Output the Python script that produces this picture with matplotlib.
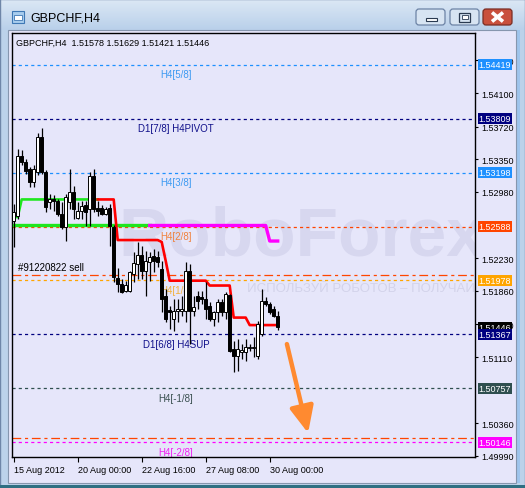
import numpy as np
import matplotlib
matplotlib.use("Agg")
import matplotlib.pyplot as plt
from matplotlib.patches import Rectangle, FancyBboxPatch
from matplotlib.transforms import blended_transform_factory

# ---------------- data ----------------
symbol = "GBPCHF,H4"
last_ohlc = [1.51578, 1.51629, 1.51421, 1.51446]

opens = [1.52650, 1.52707, 1.53387, 1.53319, 1.53239, 1.53092, 1.53205, 1.53602, 1.53205, 1.52866,
         1.52900, 1.52877, 1.52730, 1.52582, 1.52866, 1.52979, 1.52684, 1.52764, 1.52832, 1.52786,
         1.53160, 1.52798, 1.52798, 1.52730, 1.52798, 1.52582, 1.52005, 1.51937, 1.51857, 1.51857,
         1.52050, 1.52163, 1.52265, 1.52084, 1.52186, 1.52254, 1.52242, 1.52107, 1.51801, 1.51642,
         1.51541, 1.51631, 1.51631, 1.51631, 1.52084, 1.51631, 1.51801, 1.51789, 1.51767, 1.51688,
         1.51541, 1.51620, 1.51733, 1.51620, 1.51812, 1.51201, 1.51121, 1.51167, 1.51167, 1.51212,
         1.51212, 1.51121, 1.51370, 1.51744, 1.51710, 1.51654, 1.51578]
highs = [1.52843, 1.53466, 1.53455, 1.53353, 1.53262, 1.53285, 1.53647, 1.53704, 1.53228, 1.52956,
         1.52945, 1.52900, 1.52866, 1.52956, 1.53239, 1.53047, 1.52866, 1.52877, 1.52877, 1.53205,
         1.53239, 1.52877, 1.52832, 1.52809, 1.52843, 1.52600, 1.52118, 1.51993, 1.51971, 1.52084,
         1.52299, 1.52413, 1.52367, 1.52311, 1.52299, 1.52333, 1.52311, 1.52197, 1.51880, 1.51688,
         1.51767, 1.51767, 1.51801, 1.52186, 1.52163, 1.51801, 1.51857, 1.51857, 1.51959, 1.51733,
         1.51631, 1.51767, 1.51767, 1.51846, 1.51823, 1.51291, 1.51314, 1.51257, 1.51314, 1.51257,
         1.51336, 1.51518, 1.51880, 1.51789, 1.51733, 1.51688, 1.51629]
lows = [1.52356, 1.52673, 1.53285, 1.53183, 1.53035, 1.53035, 1.53171, 1.53183, 1.52752, 1.52786,
        1.52764, 1.52707, 1.52560, 1.52424, 1.52786, 1.52673, 1.52673, 1.52673, 1.52594, 1.52594,
        1.52752, 1.52707, 1.52718, 1.52718, 1.52367, 1.51959, 1.51846, 1.51835, 1.51846, 1.51846,
        1.51959, 1.51993, 1.51993, 1.51801, 1.51971, 1.52072, 1.52129, 1.51620, 1.51507, 1.51427,
        1.51404, 1.51507, 1.51574, 1.51507, 1.51257, 1.51574, 1.51654, 1.51710, 1.51541, 1.51518,
        1.51461, 1.51507, 1.51574, 1.51541, 1.51167, 1.50940, 1.50951, 1.51087, 1.51065, 1.51178,
        1.51110, 1.51087, 1.51348, 1.51688, 1.51597, 1.51563, 1.51421]
closes = [1.52752, 1.53387, 1.53319, 1.53217, 1.53092, 1.53239, 1.53602, 1.53205, 1.52809, 1.52900,
          1.52877, 1.52730, 1.52582, 1.52922, 1.52979, 1.52786, 1.52764, 1.52820, 1.52752, 1.53160,
          1.52786, 1.52764, 1.52730, 1.52786, 1.52594, 1.52016, 1.51937, 1.51846, 1.51925, 1.52072,
          1.52174, 1.52265, 1.52084, 1.52197, 1.52242, 1.52197, 1.52186, 1.51767, 1.51541, 1.51620,
          1.51631, 1.51654, 1.51654, 1.52084, 1.51631, 1.51676, 1.51744, 1.51767, 1.51654, 1.51541,
          1.51620, 1.51733, 1.51620, 1.51823, 1.51178, 1.51121, 1.51201, 1.51189, 1.51223, 1.51223,
          1.51223, 1.51484, 1.51744, 1.51710, 1.51620, 1.51574, 1.51446]

# indicator lines (start bar index + values)
green_up_start = 0
green_up = [1.52696, 1.52696, 1.52895, 1.52895, 1.52895, 1.52895, 1.52895, 1.52895, 1.52895, 1.52895,
            1.52895, 1.52895, 1.52895, 1.52895, 1.52895, 1.52895, 1.52895, 1.52895, 1.52895, 1.52895,
            1.52895, 1.52895]
red_start = 21
red = [1.52895, 1.52895, 1.52895, 1.52895, 1.52895,
       1.52435, 1.52435, 1.52435, 1.52435, 1.52435, 1.52435, 1.52435, 1.52435, 1.52435, 1.52435, 1.52435,
       1.52413, 1.52200,
       1.51975, 1.51975, 1.51975, 1.51975, 1.51975, 1.51975, 1.51975, 1.51975, 1.51975, 1.51975,
       1.51920, 1.51920, 1.51920, 1.51920, 1.51920, 1.51920,
       1.51557, 1.51557, 1.51557, 1.51557,
       1.51472, 1.51472, 1.51472, 1.51472, 1.51472, 1.51472, 1.51472, 1.51472]
green_low_start = 0
green_low = [1.52600, 1.52600, 1.52600, 1.52600, 1.52600, 1.52600, 1.52600, 1.52600, 1.52600, 1.52600,
             1.52600, 1.52600, 1.52600, 1.52600, 1.52600, 1.52600, 1.52600, 1.52600, 1.52600, 1.52600,
             1.52600, 1.52600, 1.52600, 1.52600, 1.52600, 1.52600, 1.52600, 1.52600, 1.52600, 1.52600,
             1.52600, 1.52600, 1.52600, 1.52600, 1.52600]
magenta_start = 34
magenta = [1.52600, 1.52600, 1.52600, 1.52600, 1.52600, 1.52600, 1.52600, 1.52600, 1.52600, 1.52600,
           1.52600, 1.52600, 1.52600, 1.52600, 1.52600, 1.52600, 1.52600, 1.52600, 1.52600, 1.52600,
           1.52600, 1.52600, 1.52600, 1.52600, 1.52600, 1.52600, 1.52600, 1.52600, 1.52600, 1.52600,
           1.52424, 1.52424, 1.52424]

levels = [1.54419, 1.53809, 1.53198, 1.52588, 1.51978, 1.51367, 1.50757, 1.50146]
level_names = ["H4[5/8]", "D1[7/8] H4PIVOT", "H4[3/8]", "H4[2/8]", "H4[1/8]",
               "D1[6/8] H4SUP", "H4[-1/8]", "H4[-2/8]"]
level_colors = ["#1E90FF", "#000080", "#1E90FF", "#FF4500", "#FFA500", "#000080", "#2F4F4F", "#FF00FF"]
level_text_colors = ["#3C9AF2", "#10108A", "#3C9AF2", "#F0823E", "#F2B03A", "#10108A", "#3A5050", "#F020F0"]

sell_price = 1.52039
sell_label = "#91220822 sell"
tp_price = 1.50193
bid_price = 1.51446

xtick_pos = [0, 16, 32, 48, 64]
xtick_labels = ["15 Aug 2012", "20 Aug 00:00", "22 Aug 16:00", "27 Aug 08:00", "30 Aug 00:00"]
yticks = [1.54470, 1.54100, 1.53720, 1.53350, 1.52980, 1.52230, 1.51860,
          1.51480, 1.51110, 1.50360, 1.49990]

arrow_start = (68.3, 1.51257)
arrow_end = (73.6, 1.50249)

# ---------------- figure / window chrome ----------------
W, H = 525, 489
FONT = "Liberation Sans"
plt.rcParams["font.family"] = [FONT, "DejaVu Sans"]
fig = plt.figure(figsize=(W / 100, H / 100), dpi=100)
fig.patch.set_facecolor("#BCD2EA")

bg = fig.add_axes([0, 0, 1, 1], zorder=0)
bg.set_xlim(0, W)
bg.set_ylim(H, 0)
bg.axis("off")

grad = np.linspace(0, 1, 64).reshape(-1, 1)
c1 = np.array([0xDC, 0xE8, 0xF5]) / 255
c2 = np.array([0xB9, 0xD0, 0xEA]) / 255
img = c1[None, None, :] * (1 - grad[:, :, None]) + c2[None, None, :] * grad[:, :, None]
bg.imshow(img, extent=(0, W, 31, 0), aspect="auto", zorder=0)
bg.add_patch(Rectangle((0, 0), W - 0.5, H - 0.5, fill=False, ec="#6F86A8", lw=1, zorder=1))
bg.add_patch(Rectangle((516, 31), 4, 453, fc="#9EC4EC", ec="none", zorder=1))
bg.add_patch(Rectangle((0, 486), W, 3, fc="#2F6F82", ec="none", zorder=1))
# client area
bg.add_patch(Rectangle((8, 31), 508, 453, fc="#E6E6FA", ec="#8696AE", lw=0.8, zorder=2))

# icon + title
bg.add_patch(Rectangle((11.5, 11.5), 12, 12, fc="#A8CDEE", ec="#3F78B5", lw=0.8, zorder=3))
bg.add_patch(Rectangle((14, 16), 8, 5, fc="white", ec="#3F78B5", lw=0.6, zorder=4))
bg.text(30.5, 18.5, symbol, fontsize=9, color="black", va="center", ha="left", zorder=5)

# buttons
for (x0, fc, ec) in [(416, "#D7E4F2", "#6C83A5"), (450, "#D7E4F2", "#6C83A5"), (483, "#C9503D", "#7A2C22")]:
    bg.add_patch(FancyBboxPatch((x0, 10), 29, 16, boxstyle="round,pad=0,rounding_size=3",
                                fc=fc, ec=ec, lw=0.9, zorder=3))
bg.add_patch(Rectangle((425.5, 19), 11, 3, fc="white", ec="#2A3A50", lw=0.8, zorder=4))
bg.add_patch(Rectangle((459, 13.5), 11, 9, fc="none", ec="#2A3A50", lw=0.9, zorder=4))
bg.add_patch(Rectangle((461.5, 16), 6, 4, fc="white", ec="#2A3A50", lw=0.6, zorder=4))
bg.plot([492, 503], [13.5, 22.5], color="white", lw=2.6, zorder=4, solid_capstyle="butt")
bg.plot([492, 503], [22.5, 13.5], color="white", lw=2.6, zorder=4, solid_capstyle="butt")

# ---------------- main chart ----------------
L, R, T, B = 12.0, 475.0, 34.0, 458.0
ax = fig.add_axes([L / W, (H - B) / H, (R - L) / W, (B - T) / H], zorder=1)
ax.set_facecolor("#E6E6FA")
x0px, step = 13.7, 4.0
ax.set_xlim((L - x0px) / step, (R - x0px) / step)
ax.set_ylim(1.49978, 1.54780)
axw_px = R - L

# watermark
ax.text(26.1, 1.52266, "RoboForex", fontsize=50, fontweight="bold", color="#D7D7EF",
        ha="left", va="baseline", zorder=0.5, clip_on=True)
ax.text(58.3, 1.51860, "ИСПОЛЬЗУЙ РОБОТОВ – ПОЛУЧАЙ ПРИБЫЛЬ", fontsize=9.5, color="#D3D3EA",
        ha="left", va="baseline", zorder=0.6, clip_on=True)

# level lines
for lv, nm, col, tcol in zip(levels, level_names, level_colors, level_text_colors):
    ax.axhline(lv, color=col, lw=0.9, linestyle=(0, (2.5, 2.5)), zorder=1)
    ax.annotate(nm, xy=(40.6, lv), xytext=(0, -3.2), textcoords="offset points",
                ha="center", va="top", fontsize=7, color=tcol, zorder=2, annotation_clip=False)

ax.axhline(sell_price, color="#FF4500", lw=0.9, linestyle=(0, (7, 3, 2.5, 3)), zorder=1)
ax.axhline(tp_price, color="#FF4500", lw=0.9, linestyle=(0, (7, 3, 2.5, 3)), zorder=1)
ax.annotate(sell_label, xy=(1.0, sell_price), xytext=(0, 2), textcoords="offset points",
            ha="left", va="bottom", fontsize=7, color="black", zorder=2)

# indicator lines
ax.plot(np.arange(green_low_start, green_low_start + len(green_low)), green_low,
        color="#1EE61E", lw=2.4, zorder=3)
ax.plot(np.arange(magenta_start, magenta_start + len(magenta)), magenta,
        color="#FF00FF", lw=2.4, zorder=3)
ax.plot(np.arange(green_up_start, green_up_start + len(green_up)), green_up,
        color="#1EE61E", lw=1.9, zorder=3)
ax.plot(np.arange(red_start, red_start + len(red)), red,
        color="#FF0000", lw=1.9, zorder=3)

# candles
o = np.array(opens); h = np.array(highs); l = np.array(lows); c = np.array(closes)
x = np.arange(len(o))
up = c >= o
ax.vlines(x, l, h, color="black", lw=0.9, zorder=4)
ax.bar(x[up], (c - o)[up], bottom=o[up], width=0.72, color="white",
       edgecolor="black", lw=0.7, zorder=5)
ax.bar(x[~up], (o - c)[~up], bottom=c[~up], width=0.72, color="black",
       edgecolor="black", lw=0.7, zorder=5)

# arrow
ax.annotate("", xy=arrow_end, xytext=arrow_start,
            arrowprops=dict(arrowstyle="-|>,head_length=1.0,head_width=0.45", lw=3.2,
                            color="#FF8A30", mutation_scale=16, shrinkA=0, shrinkB=0),
            zorder=6)

# header text
ax.text(4.5 / axw_px, 1 - 9 / (B - T), f"{symbol}  " + " ".join(f"{v:.5f}" for v in last_ohlc),
        transform=ax.transAxes, fontsize=6.5, color="black", ha="left", va="center", zorder=7)

# axes styling
for s in ax.spines.values():
    s.set_color("black")
    s.set_linewidth(1.0)
ax.yaxis.tick_right()
ax.set_yticks(yticks)
ax.set_yticklabels([f"{v:.5f}" for v in yticks])
ax.tick_params(axis="y", direction="out", length=2.5, width=0.8, pad=2, labelsize=6.5, colors="black")
ax.set_xticks(xtick_pos)
ax.set_xticklabels(xtick_labels)
ax.tick_params(axis="x", direction="out", length=3.5, width=0.8, pad=2.5, labelsize=6.5, colors="black")
for lab in ax.get_xticklabels():
    lab.set_horizontalalignment("left")

# right-side price boxes
trans = blended_transform_factory(ax.transAxes, ax.transData)
xb = 1 + 3.5 / axw_px
box_items = list(zip(levels, level_colors))
box_items.insert(5, (bid_price, "#000000"))
for lv, col in box_items:
    ax.text(xb, lv, f"{lv:.5f}", transform=trans, ha="left", va="center", fontsize=6.5,
            color="white", zorder=10, clip_on=False,
            bbox=dict(boxstyle="square,pad=0.1", fc=col, ec="none"))

fig.savefig("out.png", dpi=100, facecolor=fig.get_facecolor())
